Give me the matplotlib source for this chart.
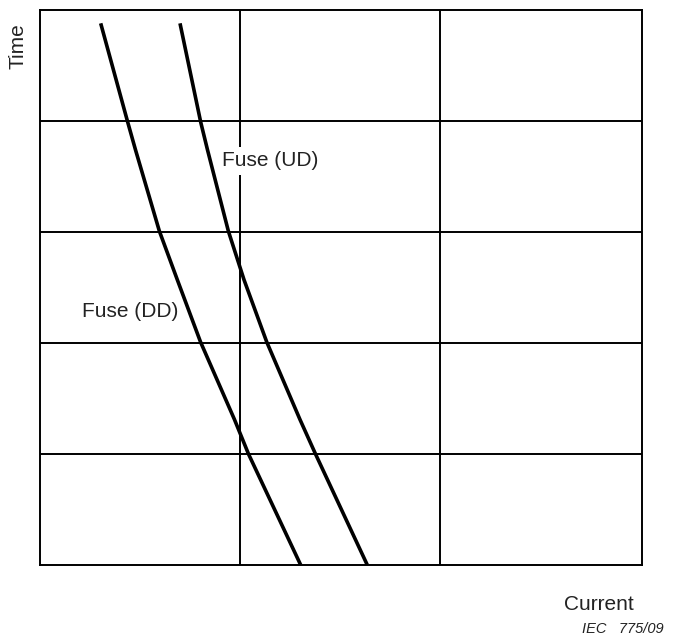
import matplotlib
matplotlib.use("Agg")
import matplotlib.pyplot as plt

plt.rcParams['font.family'] = ['Liberation Sans', 'DejaVu Sans']

# Fuse (DD) curve: current (x) vs time (y), arbitrary units
dd_current = [0.3035, 0.4385, 0.4775, 0.5965, 0.6865, 0.8025, 0.9725, 1.0425, 1.3035]
dd_time = [4.88, 3.99, 3.74, 3.01, 2.57, 2.01, 1.31, 1.00, 0.0]
# Fuse (UD) curve
ud_current = [0.70, 0.8035, 0.8375, 0.9415, 1.02, 1.1335, 1.30, 1.3775, 1.6365]
ud_time = [4.88, 3.99, 3.74, 3.01, 2.57, 2.01, 1.31, 1.00, 0.0]

x_grid = [1, 2]
y_grid = [1, 2, 3, 4]

fig = plt.figure(figsize=(6.74, 6.36), dpi=100)
ax = fig.add_axes([40/674, 1 - 565/636, 602/674, 555/636])
ax.set_xlim(0, 3.01)
ax.set_ylim(0, 5)

for xv in x_grid:
    ax.axvline(xv, color='black', lw=1.4, zorder=1)
for yv in y_grid:
    ax.axhline(yv, color='black', lw=1.4, zorder=1)

ax.plot(dd_current, dd_time, color='black', lw=2.6, solid_capstyle='butt',
        solid_joinstyle='round', zorder=2)
ax.plot(ud_current, ud_time, color='black', lw=2.6, solid_capstyle='butt',
        solid_joinstyle='round', zorder=2)

ax.text(0.91, 3.64, 'Fuse (UD)', fontsize=15, va='center', ha='left', color='#222222',
        bbox=dict(facecolor='white', edgecolor='none', pad=3), zorder=3)
ax.text(0.21, 2.28, 'Fuse (DD)', fontsize=15, va='center', ha='left', color='#222222',
        bbox=dict(facecolor='white', edgecolor='none', pad=1), zorder=3)

ax.set_xticks([])
ax.set_yticks([])
for s in ax.spines.values():
    s.set_linewidth(1.4)

fig.text(18/674, 1 - 46/636, 'Time', rotation=90, fontsize=15, ha='center', va='center', color='#222222')
fig.text(634/674, 1 - 605/636, 'Current', fontsize=15, ha='right', va='center', color='#222222')
fig.text(664/674, 1 - 629/636, 'IEC   775/09', fontsize=10.5, ha='right', va='center',
         style='italic', color='#222222')

fig.savefig('out.png', dpi=100)
